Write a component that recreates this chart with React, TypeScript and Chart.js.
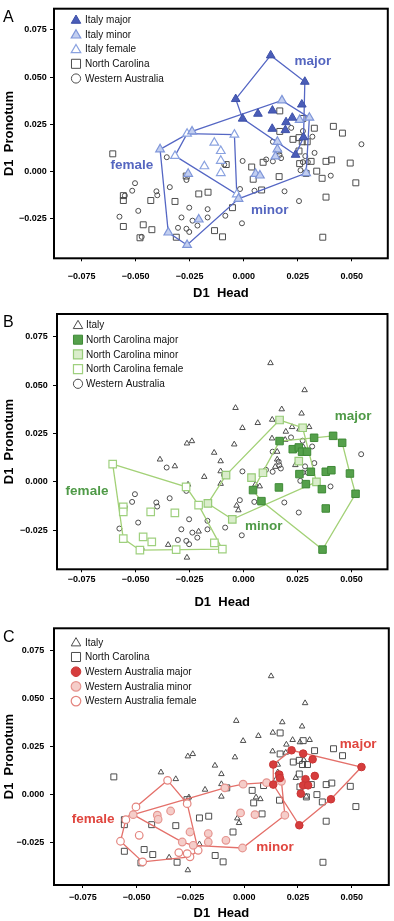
import React, { useEffect, useRef } from "react";
import { Chart, registerables } from "chart.js";
Chart.register(...registerables);

type P = [number, number];

// ---------- Italy (hull vertices first, in drawing order) ----------
const italyMajor: P[] = [
  [-0.0037, 0.0383], [0.0125, 0.0615], [0.0283, 0.0475], [0.0277, 0.018], [0.024, 0.0087], [-0.0005, 0.0279],
  [0.0269, 0.0354], [0.0133, 0.0322], [0.0066, 0.0305], [0.0225, 0.0284], [0.0196, 0.026], [0.0132, 0.0225], [0.0193, 0.0218],
];
const italyMajorHull = [0, 1, 2, 3, 4, 5];
const italyMinor: P[] = [
  [-0.0387, 0.0116], [-0.0239, 0.0211], [0.0177, 0.0376], [0.0304, 0.0284], [0.0289, -0.001], [-0.0024, -0.0147], [-0.0262, -0.0392], [-0.0349, -0.0326],
  [0.0259, 0.0272], [0.0156, 0.0156], [0.0156, 0.0116], [0.0147, 0.0078], [0.0055, -0.0014], [0.0075, -0.0023], [-0.0257, -0.0014], [-0.0208, -0.0257],
];
const italyMinorHull = [0, 1, 2, 3, 4, 5, 6, 7];
const italyFemale: P[] = [
  [-0.0318, 0.0081], [-0.0262, 0.0199], [-0.0043, 0.0194], [-0.0032, -0.0123],
  [-0.0136, 0.0151], [-0.0106, 0.0107], [-0.0106, 0.0055], [-0.0182, 0.0026], [-0.0106, -0.001],
];
const italyFemaleHull = [0, 1, 2, 3];

// ---------- North Carolina ----------
const ncMajor: P[] = [
  [0.0044, -0.0043], [0.0167, 0.0211], [0.0327, 0.0228], [0.0415, 0.0238], [0.0457, 0.0202], [0.0493, 0.0043], [0.0519, -0.0062], [0.0366, -0.0351], [0.0083, -0.01],
  [0.0228, 0.0169], [0.0256, 0.0178], [0.0271, 0.0156], [0.0294, 0.0156], [0.0259, 0.004], [0.0289, -0.0012], [0.0312, 0.0052],
  [0.0363, -0.0038], [0.0381, 0.0052], [0.0407, 0.006], [0.0381, -0.0138], [0.0164, -0.0029],
];
const ncMajorHull = [0, 1, 2, 3, 4, 5, 6, 7, 8];
const ncMinor: P[] = [
  [-0.0165, -0.0112], [-0.0081, 0.0035], [0.0167, 0.032], [0.0274, 0.028], [0.0338, 0.0], [-0.0052, -0.0194],
  [0.0037, 0.0022], [0.009, 0.0047], [0.0256, 0.0107],
];
const ncMinorHull = [0, 1, 2, 3, 4, 5];
const ncFemale: P[] = [
  [-0.0606, 0.0092], [-0.0266, -0.0026], [-0.0208, -0.0121], [-0.0098, -0.0349], [-0.048, -0.0354], [-0.0557, -0.0294],
  [-0.0557, -0.013], [-0.0557, -0.0156], [-0.043, -0.0156], [-0.0318, -0.0161], [-0.0465, -0.0285], [-0.0425, -0.0311], [-0.0312, -0.0351], [-0.0135, -0.0316],
];
const ncFemaleHull = [0, 1, 2, 3, 4, 5];

// ---------- Western Australia ----------
const waMajor: P[] = [
  [0.0135, 0.0156], [0.022, 0.023], [0.0545, 0.0143], [0.0403, -0.0024], [0.0256, -0.0159], [0.0135, 0.0052],
  [0.0274, 0.0213], [0.0318, 0.0183], [0.0328, 0.0097], [0.0163, 0.0104], [0.0166, 0.0086], [0.0285, 0.008], [0.0274, 0.0048], [0.0297, 0.0048], [0.0263, 0.0005],
];
const waMajorHull = [0, 1, 2, 3, 4, 5];
const waMinor: P[] = [
  [-0.0516, -0.0104], [-0.009, 0.0035], [-0.0005, 0.0054], [0.0104, 0.0062], [0.0173, 0.0069], [0.0189, -0.0107], [-0.0008, -0.0277], [-0.0237, -0.0263], [-0.0288, -0.0246],
  [-0.0404, -0.0107], [-0.04, -0.0128], [-0.0342, -0.0085], [-0.0252, -0.0194], [-0.0167, -0.0202], [-0.0167, -0.0246], [-0.0085, -0.0237], [-0.0017, -0.0095], [0.005, -0.0104],
];
const waMinorHull = [0, 1, 2, 3, 4, 5, 6, 7, 8];
const waFemale: P[] = [
  [-0.0356, 0.0074], [-0.0503, -0.0064], [-0.055, -0.013], [-0.0575, -0.0242], [-0.0472, -0.0349], [-0.0252, -0.0323], [-0.0214, -0.0289], [-0.0265, -0.0047],
  [-0.0488, -0.0211], [-0.0304, -0.0301], [-0.0265, -0.0306],
];
const waFemaleHull = [0, 1, 2, 3, 4, 5, 6, 7];

const xTicks = [-0.075, -0.05, -0.025, 0, 0.025, 0.05];
const yTicks = [-0.025, 0, 0.025, 0.05, 0.075];

const FONT = '"Liberation Sans", Arial, Helvetica, sans-serif';
const GRAY = "#4d4d4d";

type Style = { shape: string; fill: string; stroke: string; r: number; lw: number };

function fmt(v: number) {
  const s = Math.abs(v).toFixed(3);
  return v < -1e-9 ? "\u2212" + s : s;
}
const pts = (a: P[]) => a.map(([x, y]) => ({ x, y }));
function ring(a: P[], idx: number[]) {
  const r = idx.map((i) => ({ x: a[i][0], y: a[i][1] }));
  r.push(r[0]);
  return r;
}

function scatterDs(label: string, data: P[], st: Style, order: number) {
  return {
    label,
    data: pts(data),
    showLine: false,
    pointStyle: st.shape,
    pointRadius: st.r,
    pointHoverRadius: st.r,
    pointBackgroundColor: st.fill,
    pointBorderColor: st.stroke,
    pointBorderWidth: st.lw,
    backgroundColor: st.fill,
    borderColor: st.stroke,
    order,
  };
}
function hullDs(data: P[], idx: number[], color: string) {
  return {
    label: "",
    data: ring(data, idx),
    showLine: true,
    borderColor: color,
    borderWidth: 1.3,
    pointRadius: 0,
    pointHoverRadius: 0,
    fill: false,
    tension: 0,
    order: 2,
  };
}

// marker styles
const grayTriSmall: Style = { shape: "triangle", fill: "rgba(0,0,0,0)", stroke: GRAY, r: 3.2, lw: 1 };
const graySquare: Style = { shape: "rect", fill: "rgba(0,0,0,0)", stroke: GRAY, r: 4.2, lw: 1 };
const grayCircle: Style = { shape: "circle", fill: "rgba(0,0,0,0)", stroke: GRAY, r: 2.5, lw: 1 };

const blue = {
  line: "#5567c4", label: "#5566c0",
  major: { shape: "triangle", fill: "#4a5db8", stroke: "#3d50a8", r: 5, lw: 1 },
  minor: { shape: "triangle", fill: "#c3cff0", stroke: "#7f96d9", r: 5, lw: 1.2 },
  female: { shape: "triangle", fill: "#ffffff", stroke: "#8aa2e0", r: 5, lw: 1.2 },
};
const green = {
  line: "#a3d177", label: "#4f9a47",
  major: { shape: "rect", fill: "#55a04b", stroke: "#3f8a37", r: 5.3, lw: 1 },
  minor: { shape: "rect", fill: "#daedcb", stroke: "#97cb78", r: 5.3, lw: 1.2 },
  female: { shape: "rect", fill: "#ffffff", stroke: "#9fd07f", r: 5.3, lw: 1.2 },
};
const red = {
  line: "#e4706a", label: "#e0463f",
  major: { shape: "circle", fill: "#d63d3d", stroke: "#c93434", r: 3.8, lw: 1 },
  minor: { shape: "circle", fill: "#f5cdc9", stroke: "#e69590", r: 3.8, lw: 1.2 },
  female: { shape: "circle", fill: "#ffffff", stroke: "#e4857f", r: 3.8, lw: 1.2 },
};

const ncAll = [...ncMajor, ...ncMinor, ...ncFemale];
const waAll = [...waMajor, ...waMinor, ...waFemale];
const italyAll = [...italyMajor, ...italyMinor, ...italyFemale];

const labelsA = [
  { text: "major", x: 0.032, y: 0.0582 },
  { text: "female", x: -0.0517, y: 0.0031 },
  { text: "minor", x: 0.0121, y: -0.0208 },
];
const labelsB = [
  { text: "major", x: 0.0508, y: 0.0341 },
  { text: "female", x: -0.0725, y: -0.0047 },
  { text: "minor", x: 0.0094, y: -0.023 },
];
const labelsC = [
  { text: "major", x: 0.053, y: 0.0261 },
  { text: "female", x: -0.0702, y: -0.0128 },
  { text: "minor", x: 0.0143, y: -0.0272 },
];

const legGrayTri = { shape: "triangle", fill: "#fff", stroke: GRAY, r: 5.5, lw: 1 };
const legGraySq = { shape: "rect", fill: "#fff", stroke: GRAY, r: 6.4, lw: 1 };
const legGrayCi = { shape: "circle", fill: "#fff", stroke: GRAY, r: 4.6, lw: 1 };

const panels = [
  {
    key: "A", top: 0, height: 303,
    box: { left: 54, right: 390, top: 3.3, bottom: 258.3 },
    xRange: [-0.0878, 0.0667], yRange: [-0.0463, 0.0863],
    xTickPad: 10, yTickPad: 3.3, xTitlePad: 2.2,
    legend: { top: 11, mx: 22, tx: 31 },
    labelColor: blue.label, labels: labelsA,
    datasets: [
      scatterDs("Italy major", italyMajor, blue.major, 0),
      scatterDs("Italy minor", italyMinor, blue.minor, 1),
      scatterDs("Italy female", italyFemale, blue.female, 1),
      hullDs(italyMajor, italyMajorHull, blue.line),
      hullDs(italyMinor, italyMinorHull, blue.line),
      hullDs(italyFemale, italyFemaleHull, blue.line),
      scatterDs("North Carolina", ncAll, graySquare, 3),
      scatterDs("Western Australia", waAll, grayCircle, 3),
    ],
    legendItems: [
      { label: "Italy major", st: { ...blue.major, r: 5.5 } },
      { label: "Italy minor", st: { ...blue.minor, r: 5.5 } },
      { label: "Italy female", st: { ...blue.female, r: 5.5 } },
      { label: "North Carolina", st: legGraySq },
      { label: "Western Australia", st: legGrayCi },
    ],
  },
  {
    key: "B", top: 303, height: 309,
    box: { left: 57, right: 390.7, top: 11, bottom: 266.3 },
    xRange: [-0.0864, 0.0667], yRange: [-0.0453, 0.0869],
    xTickPad: 1.6, yTickPad: 5.3, xTitlePad: 1.5,
    legend: { top: 11, mx: 21, tx: 29 },
    labelColor: green.label, labels: labelsB,
    datasets: [
      scatterDs("North Carolina major", ncMajor, green.major, 0),
      scatterDs("North Carolina minor", ncMinor, green.minor, 1),
      scatterDs("North Carolina female", ncFemale, green.female, 1),
      hullDs(ncMajor, ncMajorHull, green.line),
      hullDs(ncMinor, ncMinorHull, green.line),
      hullDs(ncFemale, ncFemaleHull, green.line),
      scatterDs("Italy", italyAll, grayTriSmall, 3),
      scatterDs("Western Australia", waAll, grayCircle, 3),
    ],
    legendItems: [
      { label: "Italy", st: legGrayTri },
      { label: "North Carolina major", st: { ...green.major, r: 6.4 } },
      { label: "North Carolina minor", st: { ...green.minor, r: 6.4 } },
      { label: "North Carolina female", st: { ...green.female, r: 6.4 } },
      { label: "Western Australia", st: legGrayCi },
    ],
  },
  {
    key: "C", top: 612, height: 309,
    box: { left: 54, right: 389, top: 16.3, bottom: 273 },
    xRange: [-0.0884, 0.0672], yRange: [-0.0469, 0.0863],
    xTickPad: 4.3, yTickPad: 5.7, xTitlePad: 0.2,
    legend: { top: 14, mx: 22, tx: 31 },
    labelColor: red.label, labels: labelsC,
    datasets: [
      scatterDs("Western Australia major", waMajor, red.major, 0),
      scatterDs("Western Australia minor", waMinor, red.minor, 1),
      scatterDs("Western Australia female", waFemale, red.female, 1),
      hullDs(waMajor, waMajorHull, red.line),
      hullDs(waMinor, waMinorHull, red.line),
      hullDs(waFemale, waFemaleHull, red.line),
      scatterDs("Italy", italyAll, grayTriSmall, 3),
      scatterDs("North Carolina", ncAll, graySquare, 3),
    ],
    legendItems: [
      { label: "Italy", st: legGrayTri },
      { label: "North Carolina", st: legGraySq },
      { label: "Western Australia major", st: { ...red.major, r: 4.8 } },
      { label: "Western Australia minor", st: { ...red.minor, r: 4.8 } },
      { label: "Western Australia female", st: { ...red.female, r: 4.8 } },
    ],
  },
];

function drawMarker(ctx: CanvasRenderingContext2D, st: any, cx: number, cy: number) {
  ctx.save();
  ctx.beginPath();
  const r = st.r;
  if (st.shape === "triangle") {
    for (let k = 0; k < 3; k++) {
      const a = (k * 2 * Math.PI) / 3;
      const px = cx + Math.sin(a) * r;
      const py = cy - Math.cos(a) * r + r * 0.15;
      if (k === 0) ctx.moveTo(px, py);
      else ctx.lineTo(px, py);
    }
    ctx.closePath();
  } else if (st.shape === "rect") {
    const s = r * Math.SQRT1_2;
    ctx.rect(cx - s, cy - s, 2 * s, 2 * s);
  } else {
    ctx.arc(cx, cy, r, 0, Math.PI * 2);
  }
  ctx.fillStyle = st.fill;
  ctx.fill();
  ctx.lineWidth = st.lw;
  ctx.strokeStyle = st.stroke;
  ctx.stroke();
  ctx.restore();
}

function decor(cfg: any) {
  return {
    id: "decor" + cfg.key,
    afterDraw(chart: any) {
      const { ctx, chartArea: a, scales } = chart;
      ctx.save();
      ctx.strokeStyle = "#000";
      ctx.lineWidth = 2;
      ctx.strokeRect(a.left, a.top, a.right - a.left, a.bottom - a.top);

      ctx.fillStyle = "#000";
      ctx.font = `16px ${FONT}`;
      ctx.textAlign = "left";
      ctx.textBaseline = "middle";
      ctx.fillText(cfg.key, 3, a.top + 9);

      ctx.font = `10px ${FONT}`;
      cfg.legendItems.forEach((it: any, i: number) => {
        const cy = a.top + cfg.legend.top + i * 14.7;
        drawMarker(ctx, it.st, a.left + cfg.legend.mx, cy);
        ctx.fillStyle = "#111";
        ctx.textAlign = "left";
        ctx.textBaseline = "middle";
        ctx.fillText(it.label, a.left + cfg.legend.tx, cy + 0.5);
      });

      ctx.font = `bold 13.5px ${FONT}`;
      ctx.textAlign = "center";
      ctx.textBaseline = "middle";
      ctx.fillStyle = cfg.labelColor;
      cfg.labels.forEach((l: any) => {
        ctx.fillText(l.text, scales.x.getPixelForValue(l.x), scales.y.getPixelForValue(l.y));
      });
      ctx.restore();
    },
  };
}

function buildConfig(cfg: any): any {
  return {
    type: "scatter",
    data: { datasets: cfg.datasets },
    options: {
      responsive: false,
      animation: false,
      devicePixelRatio: 1,
      events: [],
      layout: { padding: { left: 0, right: 394 - cfg.box.right, top: cfg.box.top, bottom: 0 } },
      plugins: { legend: { display: false }, tooltip: { enabled: false }, title: { display: false } },
      scales: {
        x: {
          type: "linear",
          position: "bottom",
          min: cfg.xRange[0],
          max: cfg.xRange[1],
          afterBuildTicks: (s: any) => {
            s.ticks = xTicks.map((v) => ({ value: v }));
          },
          afterFit: (s: any) => {
            s.height = cfg.height - cfg.box.bottom;
          },
          ticks: {
            callback: (v: any) => fmt(Number(v)),
            font: { family: FONT, size: 9, weight: "bold" },
            color: "#000",
            padding: cfg.xTickPad,
            maxRotation: 0,
            autoSkip: false,
          },
          grid: { drawOnChartArea: false, drawTicks: true, tickLength: 3, color: "#000", lineWidth: 1 },
          border: { display: false },
          title: {
            display: true,
            text: "D1  Head",
            font: { family: FONT, size: 13, weight: "bold" },
            color: "#000",
            padding: { top: 0, bottom: cfg.xTitlePad },
          },
        },
        y: {
          type: "linear",
          position: "left",
          min: cfg.yRange[0],
          max: cfg.yRange[1],
          afterBuildTicks: (s: any) => {
            s.ticks = yTicks.map((v) => ({ value: v }));
          },
          afterFit: (s: any) => {
            s.width = cfg.box.left;
          },
          ticks: {
            callback: (v: any) => fmt(Number(v)),
            font: { family: FONT, size: 9, weight: "bold" },
            color: "#000",
            padding: cfg.yTickPad,
            autoSkip: false,
          },
          grid: { drawOnChartArea: false, drawTicks: true, tickLength: 4, color: "#000", lineWidth: 1 },
          border: { display: false },
          title: {
            display: true,
            text: "D1  Pronotum",
            font: { family: FONT, size: 13, weight: "bold" },
            color: "#000",
            padding: { top: 1.5, bottom: 0 },
          },
        },
      },
    },
    plugins: [decor(cfg)],
  };
}

function Panel({ cfg }: { cfg: any }) {
  const ref = useRef<HTMLCanvasElement>(null);
  useEffect(() => {
    const chart = new Chart(ref.current as HTMLCanvasElement, buildConfig(cfg));
    return () => chart.destroy();
  }, [cfg]);
  return (
    <div style={{ position: "absolute", left: 0, top: cfg.top, width: 394, height: cfg.height }}>
      <canvas ref={ref} width={394} height={cfg.height} style={{ display: "block", width: 394, height: cfg.height }} />
    </div>
  );
}

export default function App() {
  return (
    <div style={{ position: "fixed", left: 0, top: 0, width: 394, height: 921, background: "#fff", overflow: "hidden" }}>
      {panels.map((p) => (
        <Panel key={p.key} cfg={p} />
      ))}
    </div>
  );
}
